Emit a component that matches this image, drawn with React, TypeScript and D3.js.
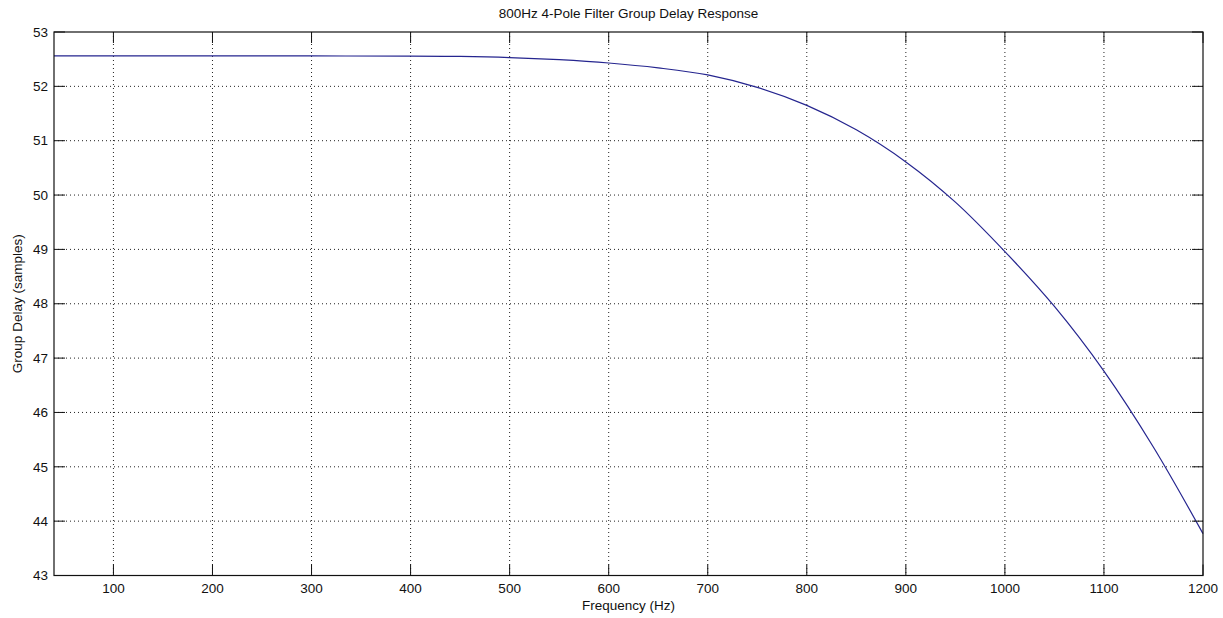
import { curveCatmullRom, line, scaleLinear } from 'd3'

const freqs = [40, 100, 200, 300, 400, 450, 500, 550, 600, 650, 700, 750, 800, 850, 900, 950, 1000, 1050, 1100, 1150, 1200]
const delays = [52.56, 52.56, 52.56, 52.56, 52.555, 52.55, 52.53, 52.49, 52.43, 52.34, 52.21, 51.98, 51.65, 51.2, 50.61, 49.87, 48.96, 47.95, 46.76, 45.36, 43.77]
const xTickValues = [100, 200, 300, 400, 500, 600, 700, 800, 900, 1000, 1100, 1200]
const yTickValues = [43, 44, 45, 46, 47, 48, 49, 50, 51, 52, 53]

const title = '800Hz 4-Pole Filter Group Delay Response'
const xLabel = 'Frequency (Hz)'
const yLabel = 'Group Delay (samples)'

const width = 1223
const height = 618
const margin = { top: 32, right: 20, bottom: 42.5, left: 54 }
const innerWidth = width - margin.left - margin.right
const innerHeight = height - margin.top - margin.bottom
const tickLen = 11
const font = 'Liberation Sans, Arial, Helvetica, sans-serif'

const App = () => {
  const x = scaleLinear().domain([40, 1200]).range([0, innerWidth])
  const y = scaleLinear().domain([43, 53]).range([innerHeight, 0])

  const points = freqs.map((f, i) => ({ f, d: delays[i] }))
  const path =
    line<{ f: number; d: number }>()
      .x((p) => x(p.f))
      .y((p) => y(p.d))
      .curve(curveCatmullRom.alpha(0.5))(points) ?? ''

  return (
    <svg
      width={width}
      height={height}
      style={{ position: 'absolute', left: 0, top: 0, background: 'white' }}
      fontFamily={font}
    >
      <text x={margin.left + innerWidth / 2} y={18} textAnchor="middle" fontSize={13.5} fill="#111">
        {title}
      </text>

      <g transform={`translate(${margin.left}, ${margin.top})`}>
        {/* grid */}
        {xTickValues
          .filter((v) => v < 1200)
          .map((v) => (
            <line key={`gx${v}`} x1={x(v)} x2={x(v)} y1={0} y2={innerHeight} stroke="#222" strokeDasharray="1 3" />
          ))}
        {yTickValues
          .filter((v) => v > 43 && v < 53)
          .map((v) => (
            <line key={`gy${v}`} x1={0} x2={innerWidth} y1={y(v)} y2={y(v)} stroke="#222" strokeDasharray="1 3" />
          ))}

        {/* curve */}
        <path d={path} fill="none" stroke="#25258f" strokeWidth={1.2} />

        {/* box */}
        <rect x={0} y={0} width={innerWidth} height={innerHeight} fill="none" stroke="#111" strokeWidth={1.2} />

        {/* x ticks */}
        {xTickValues.map((v) => (
          <g key={`tx${v}`} transform={`translate(${x(v)}, 0)`}>
            <line y1={innerHeight} y2={innerHeight - tickLen} stroke="#111" />
            <line y1={0} y2={tickLen} stroke="#111" />
            <text y={innerHeight + 17} textAnchor="middle" fontSize={13.5} fill="#111">
              {v}
            </text>
          </g>
        ))}

        {/* y ticks */}
        {yTickValues.map((v) => (
          <g key={`ty${v}`} transform={`translate(0, ${y(v)})`}>
            <line x1={0} x2={tickLen} stroke="#111" />
            <line x1={innerWidth} x2={innerWidth - tickLen} stroke="#111" />
            <text x={-6} dy="0.35em" textAnchor="end" fontSize={13.5} fill="#111">
              {v}
            </text>
          </g>
        ))}
      </g>

      <text x={margin.left + innerWidth / 2} y={610} textAnchor="middle" fontSize={13.5} fill="#111">
        {xLabel}
      </text>
      <text
        transform={`translate(22, ${margin.top + innerHeight / 2}) rotate(-90)`}
        textAnchor="middle"
        fontSize={13.5}
        fill="#111"
      >
        {yLabel}
      </text>
    </svg>
  )
}

export default App
